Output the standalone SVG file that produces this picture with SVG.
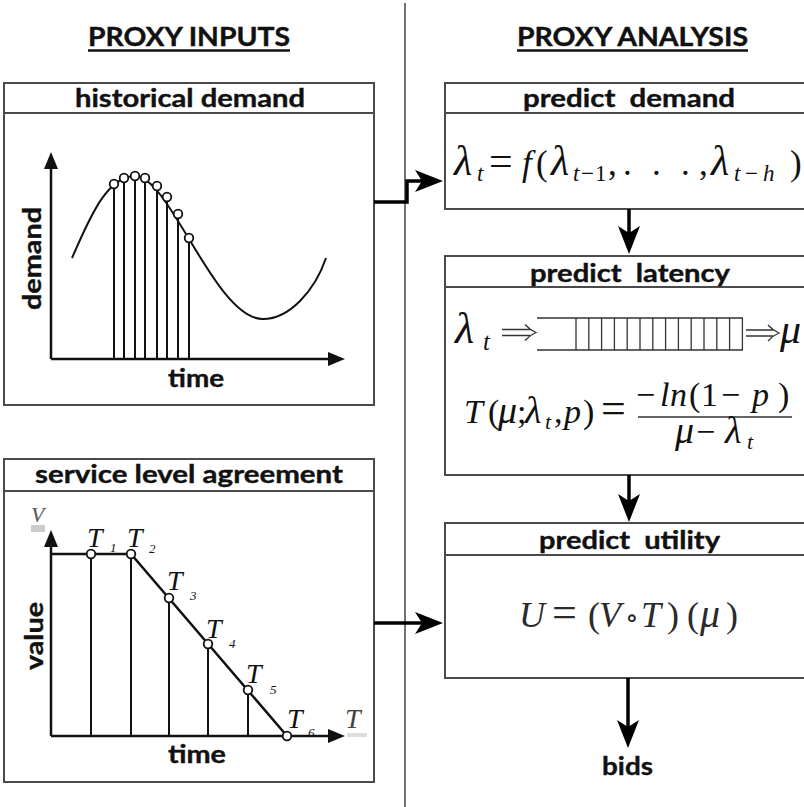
<svg xmlns="http://www.w3.org/2000/svg" width="804" height="807" viewBox="0 0 804 807">
<style>
.b{font-family:Lato,"Open Sans","Liberation Sans",sans-serif;font-weight:700;fill:#111;stroke:#111;stroke-width:0.4}
.m{font-family:"Liberation Serif","DejaVu Serif",serif;fill:#111}
.i{font-style:italic}
.g{font-size:42px}
.box{fill:#fff;stroke:#4a4a4a;stroke-width:2}
.hdr{stroke:#4a4a4a;stroke-width:2}
.ax{stroke:#111;stroke-width:2.5;fill:none}
.vl{stroke:#111;stroke-width:2;fill:none}
.pt{fill:#fff;stroke:#111;stroke-width:1.8}
.conn{stroke:#000;stroke-width:3.5;fill:none}
.thin{stroke:#333;stroke-width:1.3;fill:none}
</style>
<defs>
<marker id="ah" markerUnits="userSpaceOnUse" markerWidth="40" markerHeight="30" viewBox="-20 -15 40 30" refX="0" refY="0" orient="auto" overflow="visible">
<path d="M16,0 L-12,-11 L-5,0 L-12,11 Z" fill="#000"/>
</marker>
<marker id="axh" markerUnits="userSpaceOnUse" markerWidth="30" markerHeight="20" viewBox="-15 -10 30 20" refX="0" refY="0" orient="auto" overflow="visible">
<path d="M9,0 L-8,-7 L-8,7 Z" fill="#111"/>
</marker>
</defs>
<rect width="804" height="807" fill="#fff"/>

<g id="divider">
<line x1="405" y1="3" x2="405" y2="807" stroke="#444" stroke-width="1.5"/>
</g>

<g id="heading-inputs">
<text class="b" x="88" y="46" font-size="26" textLength="202" lengthAdjust="spacingAndGlyphs">PROXY INPUTS</text>
<line x1="88" y1="50.5" x2="290" y2="50.5" stroke="#111" stroke-width="2.5"/>
</g>
<g id="heading-analysis">
<text class="b" x="517" y="46" font-size="26" textLength="231" lengthAdjust="spacingAndGlyphs">PROXY ANALYSIS</text>
<line x1="517" y1="50.5" x2="748" y2="50.5" stroke="#111" stroke-width="2.5"/>
</g>

<g id="historical-demand">
<rect class="box" x="4" y="83" width="370" height="322"/>
<line class="hdr" x1="4" y1="113" x2="374" y2="113"/>
<text class="b" x="75" y="107" font-size="25" textLength="230" lengthAdjust="spacingAndGlyphs">historical demand</text>
<line class="ax" x1="51" y1="359" x2="51" y2="161" marker-end="url(#axh)"/>
<line class="ax" x1="51" y1="359" x2="336" y2="359" marker-end="url(#axh)"/>
<path class="vl" d="M72,258 C88,222 106,176 135,176 C170,176 215,319 263,319 C290,319 315,290 326,258"/>
<g class="vl">
<line x1="114" y1="184" x2="114" y2="359"/>
<line x1="124" y1="178" x2="124" y2="359"/>
<line x1="135" y1="176" x2="135" y2="359"/>
<line x1="145" y1="178" x2="145" y2="359"/>
<line x1="157" y1="186" x2="157" y2="359"/>
<line x1="167" y1="197" x2="167" y2="359"/>
<line x1="178" y1="214" x2="178" y2="359"/>
<line x1="189" y1="238" x2="189" y2="359"/>
</g>
<g>
<circle class="pt" cx="114" cy="184" r="4.3"/>
<circle class="pt" cx="124" cy="178" r="4.3"/>
<circle class="pt" cx="135" cy="176" r="4.3"/>
<circle class="pt" cx="145" cy="178" r="4.3"/>
<circle class="pt" cx="157" cy="186" r="4.3"/>
<circle class="pt" cx="167" cy="197" r="4.3"/>
<circle class="pt" cx="178" cy="214" r="4.3"/>
<circle class="pt" cx="189" cy="238" r="4.3"/>
</g>
<text class="b" font-size="25" textLength="103" lengthAdjust="spacingAndGlyphs" transform="translate(41,310) rotate(-90)">demand</text>
<text class="b" x="168" y="387" font-size="25" textLength="56" lengthAdjust="spacingAndGlyphs">time</text>
</g>

<g id="service-level-agreement">
<rect class="box" x="4" y="459" width="370" height="323"/>
<line class="hdr" x1="4" y1="491" x2="374" y2="491"/>
<text class="b" x="35" y="483" font-size="25" textLength="308" lengthAdjust="spacingAndGlyphs">service level agreement</text>
<rect x="31" y="525" width="14" height="7" fill="#ccc"/>
<rect x="347" y="733" width="20" height="4" fill="#ddd"/>
<text class="m i" x="31" y="522" font-size="22" style="fill:#555">V</text>
<text class="m i" x="345" y="728" font-size="28" style="fill:#444">T</text>
<line class="ax" x1="51" y1="736" x2="51" y2="539" marker-end="url(#axh)"/>
<line class="ax" x1="51" y1="736" x2="336" y2="736" marker-end="url(#axh)"/>
<path class="ax" d="M51,554 H131 L287,736"/>
<g class="vl">
<line x1="91" y1="554" x2="91" y2="736"/>
<line x1="131" y1="554" x2="131" y2="736"/>
<line x1="169" y1="598" x2="169" y2="736"/>
<line x1="208" y1="644" x2="208" y2="736"/>
<line x1="248" y1="690" x2="248" y2="736"/>
</g>
<circle class="pt" cx="91" cy="554" r="4.3"/>
<circle class="pt" cx="131" cy="554" r="4.3"/>
<circle class="pt" cx="169" cy="598" r="4.3"/>
<circle class="pt" cx="208" cy="644" r="4.3"/>
<circle class="pt" cx="248" cy="690" r="4.3"/>
<circle class="pt" cx="287" cy="736" r="4.3"/>
<text class="m i" font-size="28"><tspan x="87" y="547">T</tspan><tspan x="110" y="552" font-size="13">1</tspan></text>
<text class="m i" font-size="28"><tspan x="127" y="547">T</tspan><tspan x="149" y="553" font-size="13">2</tspan></text>
<text class="m i" font-size="28"><tspan x="167" y="590">T</tspan><tspan x="190" y="600" font-size="13">3</tspan></text>
<text class="m i" font-size="28"><tspan x="206" y="638">T</tspan><tspan x="229" y="648" font-size="13">4</tspan></text>
<text class="m i" font-size="28"><tspan x="246" y="683">T</tspan><tspan x="270" y="694" font-size="13">5</tspan></text>
<text class="m i" font-size="28"><tspan x="287" y="728">T</tspan><tspan x="308" y="737" font-size="13">6</tspan></text>
<text class="b" font-size="25" textLength="68" lengthAdjust="spacingAndGlyphs" transform="translate(43,670) rotate(-90)">value</text>
<text class="b" x="168" y="763" font-size="25" textLength="58" lengthAdjust="spacingAndGlyphs">time</text>
</g>

<g id="predict-demand">
<rect class="box" x="445" y="83" width="362" height="126"/>
<line class="hdr" x1="445" y1="113" x2="807" y2="113"/>
<text class="b" x="523" y="107" font-size="25" word-spacing="6" textLength="212" lengthAdjust="spacingAndGlyphs">predict demand</text>
<text class="m" font-size="35" y="175"><tspan x="454" class="i g">λ</tspan><tspan x="477" y="181" font-size="23" class="i">t</tspan><tspan x="489" y="175" font-size="42">=</tspan><tspan x="522" class="i">f</tspan><tspan x="536">(</tspan><tspan x="551" class="i g">λ</tspan><tspan x="573" y="181" font-size="23" class="i">t</tspan><tspan x="581" y="181" font-size="23">−</tspan><tspan x="595" y="181" font-size="23">1</tspan><tspan x="608" y="175">,</tspan><tspan x="623">.</tspan><tspan x="652">.</tspan><tspan x="681">.</tspan><tspan x="699">,</tspan><tspan x="711" class="i g">λ</tspan><tspan x="734" y="181" font-size="23" class="i">t</tspan><tspan x="745" y="181" font-size="23">−</tspan><tspan x="763" y="181" font-size="23" class="i">h</tspan><tspan x="790" y="175">)</tspan></text>
</g>

<g id="predict-latency">
<rect class="box" x="445" y="256" width="362" height="219"/>
<line class="hdr" x1="445" y1="287" x2="807" y2="287"/>
<text class="m i" font-size="44"><tspan x="455" y="343">λ</tspan><tspan x="483" y="350" font-size="25">t</tspan></text>
<text class="b" x="530" y="282" font-size="25" word-spacing="6" textLength="200" lengthAdjust="spacingAndGlyphs">predict latency</text>
<path class="thin" d="M502,329.5 H530 M502,335.5 H530 M525,324.5 Q530,330 536,332.5 Q530,335 525,340.5"/>
<path class="thin" d="M537,318 H742.4 V350 H537"/>
<path class="thin" d="M576,318 V350 M588.8,318 V350 M601.6,318 V350 M614.4,318 V350 M627.2,318 V350 M640,318 V350 M652.8,318 V350 M665.6,318 V350 M678.4,318 V350 M691.2,318 V350 M704,318 V350 M716.8,318 V350 M729.6,318 V350"/>
<path class="thin" d="M746,330 H773 M746,336 H773 M768,325 Q773,330.5 779,333 Q773,335.5 768,341"/>
<text class="m i" x="780" y="343" font-size="42">μ</text>
<text class="m" font-size="34" y="423"><tspan x="464" class="i">T</tspan><tspan x="488">(</tspan><tspan x="498" class="i" font-size="38">μ</tspan><tspan x="517">;</tspan><tspan x="525" class="i" font-size="38">λ</tspan><tspan x="545" y="429" font-size="22" class="i">t</tspan><tspan x="554" y="423">,</tspan><tspan x="564" class="i">p</tspan><tspan x="583">)</tspan><tspan x="601" font-size="44">=</tspan></text>
<text class="m" font-size="34" y="406"><tspan x="636">−</tspan><tspan x="660" class="i">l</tspan><tspan x="670" class="i">n</tspan><tspan x="689">(</tspan><tspan x="701">1</tspan><tspan x="721">−</tspan><tspan x="752" class="i">p</tspan><tspan x="778">)</tspan></text>
<line class="thin" x1="638" y1="417" x2="792" y2="417"/>
<text class="m" font-size="34" y="443"><tspan x="675" class="i" font-size="38">μ</tspan><tspan x="696">−</tspan><tspan x="725" class="i" font-size="38">λ</tspan><tspan x="747" y="449" font-size="22" class="i">t</tspan></text>
</g>

<g id="predict-utility">
<rect class="box" x="445" y="523" width="362" height="155"/>
<line class="hdr" x1="445" y1="555" x2="807" y2="555"/>
<text class="b" x="539" y="549" font-size="25" word-spacing="6" textLength="181" lengthAdjust="spacingAndGlyphs">predict utility</text>
<text class="m" font-size="36" y="627" style="fill:#2a2a2a"><tspan x="519" class="i">U</tspan><tspan x="552" font-size="44">=</tspan><tspan x="588">(</tspan><tspan x="599" class="i">V</tspan><tspan x="625" font-size="28">∘</tspan><tspan x="641" class="i">T</tspan><tspan x="667">)</tspan><tspan x="687">(</tspan><tspan x="700" class="i" font-size="40">μ</tspan><tspan x="726">)</tspan></text>
</g>

<g id="bids">
<text class="b" x="602" y="775" font-size="25" textLength="51" lengthAdjust="spacingAndGlyphs">bids</text>
</g>

<g id="connectors">
<path class="conn" d="M374,202 H407 V181 H427" marker-end="url(#ah)"/>
<path class="conn" d="M374,623 H427" marker-end="url(#ah)"/>
<path class="conn" d="M629,209 V238" marker-end="url(#ah)"/>
<path class="conn" d="M629,475 V506" marker-end="url(#ah)"/>
<path class="conn" d="M628,678 V732" marker-end="url(#ah)"/>
</g>
</svg>
